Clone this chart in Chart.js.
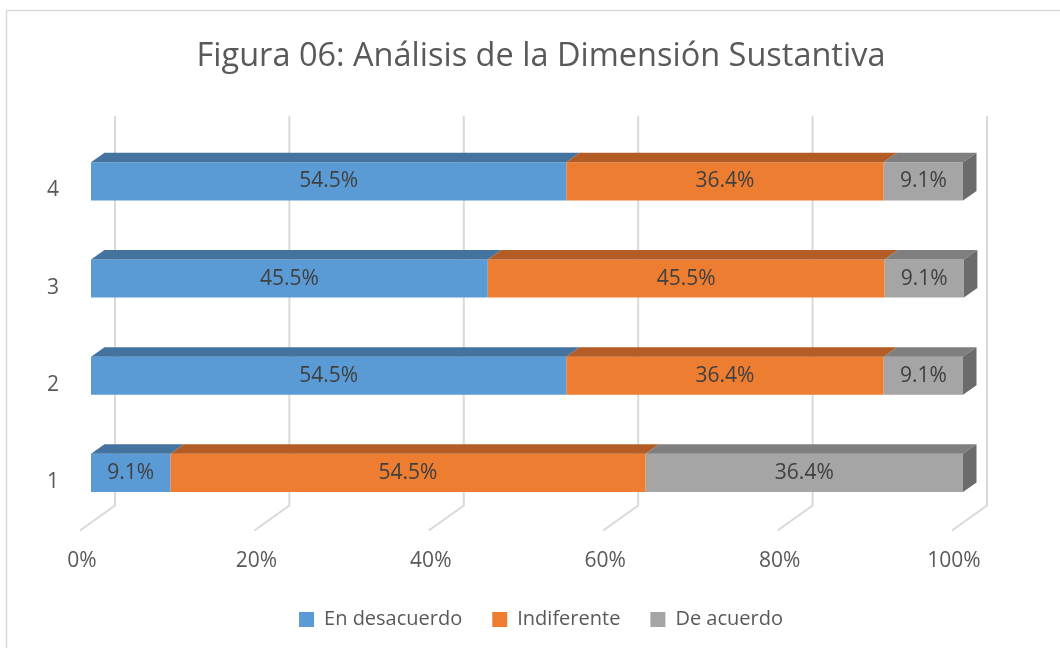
<!DOCTYPE html>
<html>
<head>
<meta charset="utf-8">
<script src="https://cdn.jsdelivr.net/npm/chart.js@4.4.1/dist/chart.umd.min.js"></script>
<style>
  body { margin: 0; background: #fff; }
  canvas { display: block; }
</style>
</head>
<body>
<canvas id="chart" width="1060" height="648"></canvas>
<script>
const categories = ['1', '2', '3', '4'];
const enDesacuerdo = [9.1, 54.5, 45.5, 54.5];
const indiferente = [54.5, 36.4, 45.5, 36.4];
const deAcuerdo = [36.4, 9.1, 9.1, 9.1];
const xTicks = [0, 20, 40, 60, 80, 100];

const FONT = "'Open Sans', sans-serif";
const DX = 13.5, DY = 9.5; // bar depth

// frame + back gridlines
const backdrop = {
    id: 'backdrop',
    beforeDraw(chart) {
        const ctx = chart.ctx;
        ctx.save();
        ctx.fillStyle = '#fff';
        ctx.fillRect(0, 0, chart.width, chart.height);
        ctx.strokeStyle = '#d9d9d9';
        ctx.lineWidth = 1.5;
        ctx.strokeRect(6.5, 10.5, chart.width + 20, chart.height + 20);
        ctx.restore();
    },
    beforeDatasetsDraw(chart) {
        const ctx = chart.ctx;
        const xs = chart.scales.x;
        const area = chart.chartArea;
        ctx.save();
        ctx.strokeStyle = '#d9d9d9';
        ctx.lineWidth = 2;
        xTicks.forEach(v => {
            const px = xs.getPixelForValue(v);
            ctx.beginPath();
            ctx.moveTo(px + 24, area.top - 17);
            ctx.lineTo(px + 24, area.bottom - 16);
            ctx.lineTo(px - 11, area.bottom + 9);
            ctx.stroke();
        });
        ctx.restore();
    }
};

// top/side faces and value labels
const bars3d = {
    id: 'bars3d',
    afterDatasetsDraw(chart) {
        const ctx = chart.ctx;
        const last = chart.data.datasets.length - 1;
        ctx.save();
        chart.data.datasets.forEach((ds, di) => {
            const meta = chart.getDatasetMeta(di);
            meta.data.forEach((bar, i) => {
                const { x, y, base, height } = bar.getProps(['x', 'y', 'base', 'height'], true);
                const top = y - height / 2, bottom = y + height / 2;
                ctx.fillStyle = ds.topColor;
                ctx.beginPath();
                ctx.moveTo(base, top);
                ctx.lineTo(base + DX, top - DY);
                ctx.lineTo(x + DX, top - DY);
                ctx.lineTo(x, top);
                ctx.closePath();
                ctx.fill();
                if (di === last) {
                    ctx.fillStyle = ds.sideColor;
                    ctx.beginPath();
                    ctx.moveTo(x, top);
                    ctx.lineTo(x + DX, top - DY);
                    ctx.lineTo(x + DX, bottom - DY);
                    ctx.lineTo(x, bottom);
                    ctx.closePath();
                    ctx.fill();
                }
                ctx.fillStyle = '#404040';
                ctx.font = '21px ' + FONT;
                ctx.textAlign = 'center';
                ctx.textBaseline = 'middle';
                ctx.fillText(ds.data[i].toFixed(1) + '%', (x + base) / 2, y);
            });
        });
        ctx.restore();
    }
};

new Chart(document.getElementById('chart'), {
    type: 'bar',
    data: {
        labels: categories,
        datasets: [
            { label: 'En desacuerdo', data: enDesacuerdo, backgroundColor: '#5b9bd5', topColor: '#44739f', sideColor: '#3d6a94' },
            { label: 'Indiferente', data: indiferente, backgroundColor: '#ed7d31', topColor: '#b35c25', sideColor: '#a85522' },
            { label: 'De acuerdo', data: deAcuerdo, backgroundColor: '#a5a5a5', topColor: '#7f7f7f', sideColor: '#6b6b6b' }
        ]
    },
    options: {
        indexAxis: 'y',
        responsive: false,
        animation: false,
        devicePixelRatio: 1,
        datasets: { bar: { barPercentage: 0.392, categoryPercentage: 1, clip: false } },
        layout: { padding: { left: 22, right: 0, top: 0, bottom: 8.5 } },
        scales: {
            x: {
                stacked: true, min: 0, max: 100,
                grid: { display: false, drawTicks: false },
                border: { display: false },
                ticks: {
                    stepSize: 20, padding: 26.5, labelOffset: -9,
                    color: '#595959', font: { family: FONT, size: 21 },
                    callback: v => v + '%'
                },
                afterFit: s => { s.height = 58; }
            },
            y: {
                stacked: true, reverse: true,
                grid: { display: false, drawTicks: false },
                border: { display: false },
                ticks: {
                    padding: 32, labelOffset: 9,
                    color: '#595959', font: { family: FONT, size: 21 }
                },
                afterFit: s => { s.width = 69; }
            },
            yRight: {
                type: 'category', position: 'right', labels: categories,
                grid: { display: false, drawTicks: false },
                border: { display: false },
                ticks: { display: false },
                afterFit: s => { s.width = 97; }
            }
        },
        plugins: {
            title: {
                display: true,
                text: 'Figura 06: Análisis de la Dimensión Sustantiva',
                color: '#595959',
                font: { family: FONT, size: 32.5, weight: 'normal' },
                padding: { top: 37.5, bottom: 56.3 }
            },
            legend: {
                position: 'bottom',
                labels: {
                    boxWidth: 15, boxHeight: 15, padding: 30,
                    color: '#595959', font: { family: FONT, size: 20 }
                }
            },
            tooltip: { enabled: false }
        }
    },
    plugins: [backdrop, bars3d]
});
</script>
</body>
</html>
